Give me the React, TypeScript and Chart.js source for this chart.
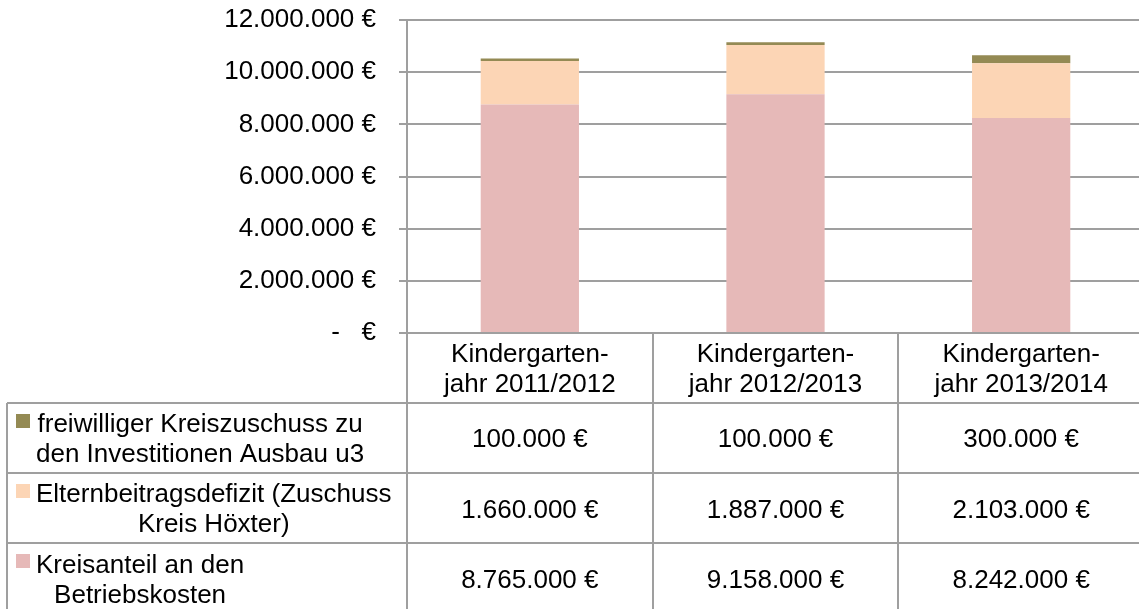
import { useEffect, useRef } from 'react';
import { Chart, registerables } from 'chart.js';

Chart.register(...registerables);

// ---- data ----
const categories: string[][] = [
  ['Kindergarten-', 'jahr 2011/2012'],
  ['Kindergarten-', 'jahr 2012/2013'],
  ['Kindergarten-', 'jahr 2013/2014'],
];
const kreisanteil = [8765000, 9158000, 8242000];
const elternbeitrag = [1660000, 1887000, 2103000];
const freiwillig = [100000, 100000, 300000];

const labelKreisanteil = ['Kreisanteil an den', 'Betriebskosten'];
const labelEltern = ['Elternbeitragsdefizit (Zuschuss', 'Kreis Höxter)'];
const labelFreiwillig = ['freiwilliger Kreiszuschuss zu', 'den Investitionen Ausbau u3'];

const colorKreisanteil = '#E6B9B8';
const colorEltern = '#FCD5B5';
const colorFreiwillig = '#948A54';

const yMin = 0;
const yMax = 12000000;
const yStep = 2000000;

const FONT = '"Liberation Sans", Arial, sans-serif';
const LINE = '#9f9f9f';

function fmtEuro(v: number): string {
  if (v === 0) return '-   €';
  return String(v).replace(/\B(?=(\d{3})+(?!\d))/g, '.') + ' €';
}

const tablePlugin = {
  id: 'dataTable',
  afterDraw(chart: any) {
    const ctx: CanvasRenderingContext2D = chart.ctx;
    const area = chart.chartArea;
    const xs = chart.scales.x;
    const n = categories.length;
    const bounds: number[] = [area.left];
    for (let i = 1; i < n; i++) {
      bounds.push((xs.getPixelForValue(i - 1) + xs.getPixelForValue(i)) / 2);
    }
    bounds.push(area.right);

    const headerTop = area.bottom;
    const headerBottom = headerTop + 69.5;
    const rowH = 70.4;
    const tableLeft = 7;
    // rows from top to bottom (reverse of stacking order)
    const dsList = chart.data.datasets.slice().reverse();
    const nRows = dsList.length;
    const tableBottom = headerBottom + nRows * rowH;

    ctx.save();
    ctx.strokeStyle = LINE;
    ctx.lineWidth = 2;
    ctx.beginPath();
    for (let r = 0; r <= nRows; r++) {
      const y = Math.round(headerBottom + r * rowH);
      ctx.moveTo(tableLeft, y);
      ctx.lineTo(area.right, y);
    }
    ctx.moveTo(tableLeft, Math.round(headerBottom));
    ctx.lineTo(tableLeft, tableBottom);
    for (const b of bounds) {
      const bx = Math.round(b);
      ctx.moveTo(bx, headerTop);
      ctx.lineTo(bx, tableBottom);
    }
    ctx.stroke();

    ctx.fillStyle = '#000';
    ctx.font = `26px ${FONT}`;
    ctx.textBaseline = 'alphabetic';
    ctx.textAlign = 'center';

    // header
    const hc = (headerTop + headerBottom) / 2;
    for (let i = 0; i < n; i++) {
      const cx = (bounds[i] + bounds[i + 1]) / 2;
      const lines = categories[i];
      const startY = hc - ((lines.length - 1) * 30) / 2 + 9;
      lines.forEach((ln, k) => ctx.fillText(ln, cx, startY + k * 30));
    }

    // rows
    dsList.forEach((ds: any, r: number) => {
      const top = headerBottom + r * rowH;
      const cy = top + rowH / 2;
      // legend key
      ctx.fillStyle = ds.backgroundColor;
      ctx.fillRect(16, Math.round(top + 11), 14, 14);
      ctx.fillStyle = '#000';
      const lines: string[] = ds.labelLines;
      let maxW = 0;
      lines.forEach((ln) => (maxW = Math.max(maxW, ctx.measureText(ln).width)));
      const blockCx = 36 + maxW / 2;
      const startY = cy - ((lines.length - 1) * 30) / 2 + 9;
      lines.forEach((ln, k) => ctx.fillText(ln, blockCx, startY + k * 30));
      // values
      for (let i = 0; i < n; i++) {
        const cx = (bounds[i] + bounds[i + 1]) / 2;
        ctx.fillText(fmtEuro(ds.data[i]), cx, cy + 9.5);
      }
    });
    ctx.restore();
  },
};

export default function App() {
  const ref = useRef<HTMLCanvasElement>(null);

  useEffect(() => {
    if (!ref.current) return;
    const chart = new Chart(ref.current, {
      type: 'bar',
      data: {
        labels: categories,
        datasets: [
          {
            label: labelKreisanteil.join(' '),
            labelLines: labelKreisanteil,
            data: kreisanteil,
            backgroundColor: colorKreisanteil,
          } as any,
          {
            label: labelEltern.join(' '),
            labelLines: labelEltern,
            data: elternbeitrag,
            backgroundColor: colorEltern,
          } as any,
          {
            label: labelFreiwillig.join(' '),
            labelLines: labelFreiwillig,
            data: freiwillig,
            backgroundColor: colorFreiwillig,
          } as any,
        ],
      },
      options: {
        responsive: false,
        animation: false,
        datasets: {
          bar: { categoryPercentage: 1, barPercentage: 0.4, borderWidth: 0 },
        },
        layout: { padding: { left: 0, right: 0, top: 20, bottom: 283 } },
        plugins: { legend: { display: false }, tooltip: { enabled: false } },
        scales: {
          x: { stacked: true, display: false },
          y: {
            stacked: true,
            min: yMin,
            max: yMax,
            afterFit: (s: any) => {
              s.width = 407;
              s.paddingTop = 0;
              s.paddingBottom = 0;
            },
            ticks: {
              stepSize: yStep,
              padding: 23,
              color: '#000',
              font: { family: FONT, size: 26 },
              callback: (v: any) => fmtEuro(Number(v)),
            },
            grid: { color: LINE, lineWidth: 2, tickLength: 8, drawTicks: true },
            border: { display: true, color: LINE, width: 2 },
          },
        },
      },
      plugins: [tablePlugin],
    } as any);
    return () => chart.destroy();
  }, []);

  return (
    <div
      style={{
        position: 'absolute',
        left: 0,
        top: 0,
        width: 1139,
        height: 609,
        overflow: 'hidden',
        background: '#fff',
      }}
    >
      <canvas ref={ref} width={1144} height={616} style={{ display: 'block' }} />
    </div>
  );
}
